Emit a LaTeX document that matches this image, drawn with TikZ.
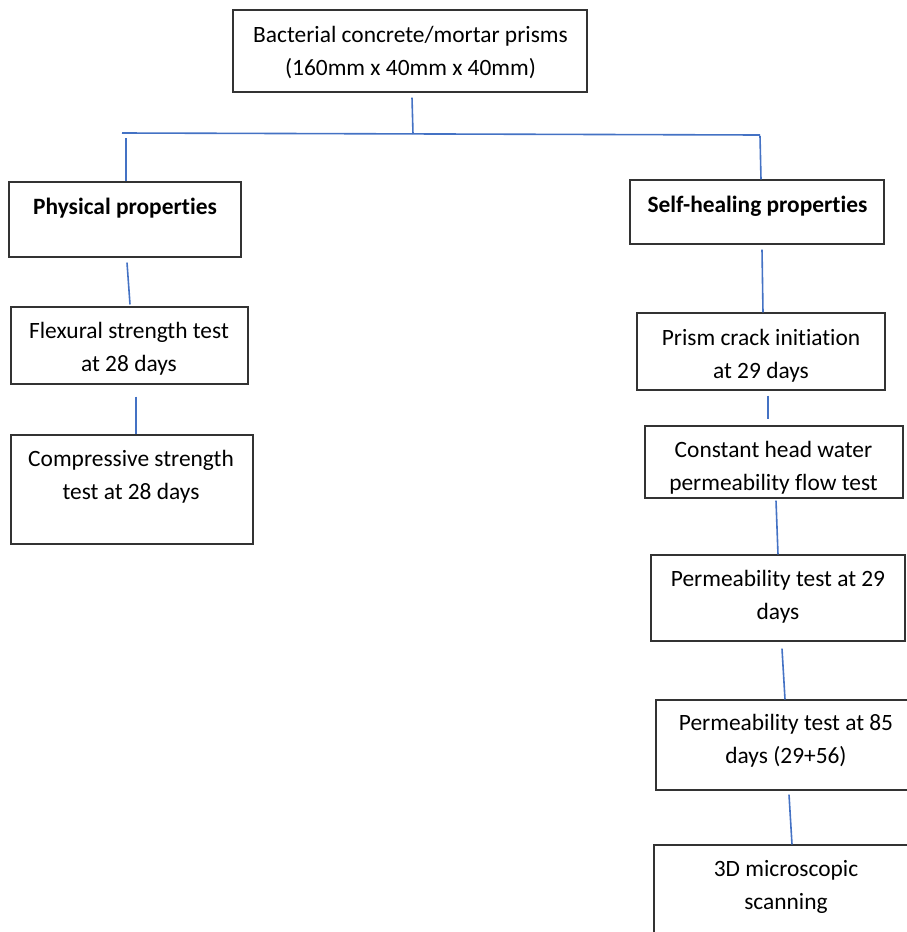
\documentclass[tikz,border=0pt]{standalone}
\usepackage{fontspec}
\setmainfont{Carlito}[Ligatures=NoCommon]
\usetikzlibrary{calc}

\begin{document}
\begin{tikzpicture}[x=0.5pt,y=0.5pt,yscale=-1,xscale=1,
  box/.style={draw=black!80, line width=0.55pt, inner sep=0pt},
  txt/.style={align=center, inner sep=0.75pt, font=\fontsize{11.7}{16.5}\selectfont},
  link/.style={draw={rgb,255:red,68;green,114;blue,196}, line width=0.8pt}]
\useasboundingbox (0,0) rectangle (906,932);

%Shape: Rectangle [id:topbox]
\node[box, minimum width=177pt, minimum height=41pt] (topbox) at (410,51) {};
% Text Node
\node[txt] (topT) at (410.5,52.5) {Bacterial concrete/mortar prisms\\(160mm x 40mm x 40mm)};

%Shape: Rectangle [id:physbox]
\node[box, minimum width=116pt, minimum height=37.5pt] (physbox) at (125,219.5) {};
% Text Node
\node[txt, font=\fontsize{11.7}{16.5}\selectfont\bfseries] (physT) at (125,208.5) {Physical properties};

%Shape: Rectangle [id:selfbox]
\node[box, minimum width=127pt, minimum height=32pt] (selfbox) at (757,212) {};
% Text Node
\node[txt, font=\fontsize{11.7}{16.5}\selectfont\bfseries] (selfT) at (757.5,206.5) {Self-healing properties};

%Shape: Rectangle [id:flexbox]
\node[box, minimum width=118.5pt, minimum height=38.5pt] (flexbox) at (129.5,345.5) {};
% Text Node
\node[txt] (flexT) at (129,349) {Flexural strength test\\at 28 days};

%Shape: Rectangle [id:compbox]
\node[box, minimum width=121pt, minimum height=54.5pt] (compbox) at (132,489.5) {};
% Text Node
\node[txt] (compT) at (131,477) {Compressive strength\\test at 28 days};

%Shape: Rectangle [id:prismbox]
\node[box, minimum width=124pt, minimum height=38.5pt] (prismbox) at (761,351.5) {};
% Text Node
\node[txt] (prismT) at (761,356) {Prism crack initiation\\at 29 days};

%Shape: Rectangle [id:constbox]
\node[box, minimum width=129pt, minimum height=36pt] (constbox) at (774,462) {};
% Text Node
\node[txt] (constT) at (773.5,468) {Constant head water\\permeability flow test};

%Shape: Rectangle [id:permAbox]
\node[box, minimum width=127pt, minimum height=43pt] (permAbox) at (778,598) {};
% Text Node
\node[txt] (permAT) at (778,597) {Permeability test at 29\\days};

%Shape: Rectangle [id:permBbox]
\node[box, minimum width=137pt, minimum height=45pt] (permBbox) at (793,745) {};
% Text Node
\node[txt] (permBT) at (786,741) {Permeability test at 85\\days (29+56)};

%Shape: Rectangle [id:scanbox]
\node[box, minimum width=138pt, minimum height=57.5pt] (scanbox) at (792,902.5) {};
% Text Node
\node[txt] (scanT) at (786,887) {3D microscopic\\scanning};

%Bus line
\coordinate (busL) at (122,133);
\coordinate (busM) at (413,134);
\coordinate (busR) at (760,135);
\draw[link] (busL) -- (busR);

%Straight Lines
\draw[link] ($(topbox.south)+(2,5)$) -- (busM);
\draw[link] ($(busL)+(4,5)$) -- ($(physbox.north)+(1,0)$);
\draw[link] ($(busR)+(0,1)$) -- ($(selfbox.north)+(4,0)$);
\draw[link] ($(physbox.south)+(2,5)$) -- ($(flexbox.north)+(0.5,-2)$);
\draw[link] ($(flexbox.south)+(6.5,12)$) -- ($(compbox.north)+(4,0)$);
\draw[link] ($(selfbox.south)+(5,5)$) -- ($(prismbox.north)+(2,0)$);
\draw[link] ($(prismbox.south)+(7,5)$) -- ($(constbox.north)+(-6,-6)$);
\draw[link] ($(constbox.south)+(2,2)$) -- (permAbox.north);
\draw[link] ($(permAbox.south)+(4,7)$) -- ($(permBbox.north)+(-8,0)$);
\draw[link] ($(permBbox.south)+(-4,4)$) -- (scanbox.north);

\end{tikzpicture}
\end{document}
